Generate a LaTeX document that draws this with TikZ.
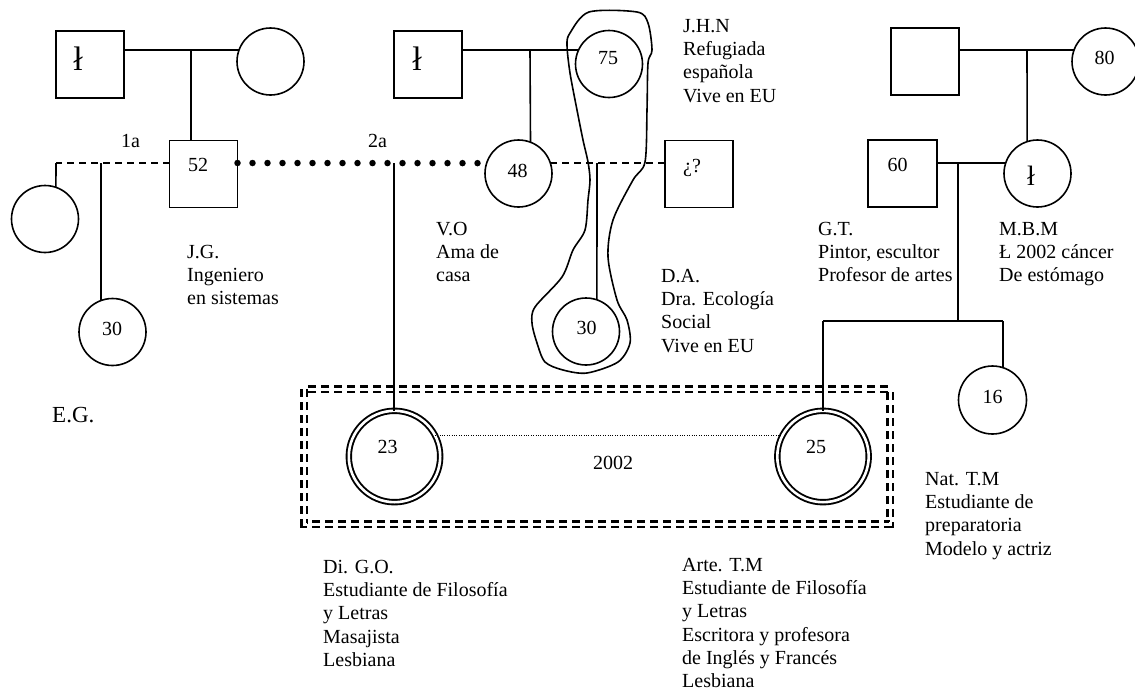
\documentclass[tikz,border=0pt]{standalone}
\usepackage{fontspec}
\setmainfont{Liberation Serif}
\newcommand{\fl}{\rule{0pt}{15pt}}
\begin{document}
\begin{tikzpicture}[x=1pt,y=-1pt,
  ln/.style={line width=1.6pt},
  sq/.style={draw,line width=1.6pt,rectangle,minimum width=68pt,minimum height=67pt,inner sep=0pt,outer sep=0pt},
  ci/.style={draw,line width=1.6pt,circle,minimum size=67pt,inner sep=0pt,outer sep=0pt},
  dci/.style={draw,circle,double,double distance=2.6pt,line width=1.9pt,minimum size=91.4pt,inner sep=0pt,outer sep=0pt},
  num/.style={font=\fontsize{20}{24}\selectfont,anchor=base,inner sep=0pt},
  dth/.style={font=\fontsize{34}{34}\selectfont,anchor=base,inner sep=0pt},
  txt/.style={font=\fontsize{20}{23.3}\selectfont,align=left,anchor=north west,inner sep=0pt},
  dsh/.style={line width=1.6pt,dash pattern=on 7pt off 5pt},
  bigdots/.style={line width=6.5pt,line cap=round,dash pattern=on 0pt off 15pt},
  thindots/.style={line width=0.9pt,dash pattern=on 1pt off 1.4pt},
  grp/.style={double,double distance=3pt,line width=2.2pt,dash pattern=on 8pt off 5pt}]

\useasboundingbox (0,0) rectangle (1135,691);

% group box
\draw[grp] (304,389) rectangle (890,524);

% shapes
\node[sq] (sqA) at (90,64.5) {};
\node[ci] (circA) at (270.5,61.5) {};
\node[sq] (sq52) at (203.5,174) {};
\node[ci] (cL) at (45,219) {};
\node[ci] (c30a) at (112.5,332) {};
\node[sq] (sqB) at (428,64.5) {};
\node[ci] (c75) at (609,64) {};
\node[ci] (c48) at (518.5,173.5) {};
\node[sq] (sqQ) at (699,174) {};
\node[ci] (c30b) at (586,331.5) {};
\node[sq] (sqC) at (925,61.5) {};
\node[ci] (c80) at (1105.5,61.5) {};
\node[ci] (cM) at (1037.5,173.5) {};
\node[sq, minimum width=69pt] (sq60) at (902.5,173.5) {};
\node[ci, minimum size=68pt] (c16) at (992.5,400) {};
\node[dci] (d23) at (394.5,456.5) {};
\node[dci] (d25) at (823,456.5) {};

% numbers and marks
\node[dth] (xA) at (78,70) {ł};
\node[dth] (xB) at (417,70) {ł};
\node[dth, font=\fontsize{28}{28}\selectfont] (xM) at (1031,185) {ł};
\node[num] (n52) at (198,171) {52};
\node[num] (n30a) at (112,335) {30};
\node[num] (n75) at (608,64) {75};
\node[num] (n48) at (517.5,177) {48};
\node[num] (nQ) at (692,172) {¿?};
\node[num] (n30b) at (586.5,334) {30};
\node[num] (n80) at (1104.5,64) {80};
\node[num] (n60) at (897.5,171) {60};
\node[num] (n16) at (992.5,403) {16};
\node[num] (n23) at (387.5,453) {23};
\node[num] (n25) at (816,453) {25};

% coordinates
\coordinate (mA) at (191,50);
\coordinate (mB) at (530,50);
\coordinate (mC) at (1027,50);
\coordinate (dL) at (56,163);
\coordinate (d1) at (101,163);
\coordinate (d2) at (394,163);
\coordinate (d3) at (597,163);
\coordinate (d4) at (958,163);
\coordinate (b1) at (958,321);
\coordinate (bL) at (823,321);
\coordinate (bR) at (1003,321);

% left family
\draw[ln] (sqA.east |- circA.160) -- (circA.160);
\draw[ln] (mA) -- (sq52.north -| mA);
\draw[dsh] (sq52.west |- dL) -- (dL);
\draw[ln] (dL) -- (cL.71);
\draw[ln] (d1) -- (c30a.110);
\draw[bigdots] (sq52.east |- dL) -- (c48.162);
\draw[ln] (d2) -- (d2 |- d23.north);

% middle family
\draw[ln] (sqB.east |- c75.155) -- (c75.155);
\draw[ln] (mB) -- (c48.69);
\draw[dsh] (c48.18) -- (sqQ.west |- c48.18);
\draw[ln] (d3) -- (c30b.71);

% right family
\draw[ln] (sqC.east |- c80.160) -- (c80.160);
\draw[ln] (mC) -- (cM.108);
\draw[ln] (sq60.east |- cM.162) -- (cM.162);
\draw[ln] (d4) -- (b1);
\draw[ln] (bL) -- (bR);
\draw[ln] (bL) -- (d25.north);
\draw[ln] (bR) -- (c16.72);

% couple link
\draw[thindots] (d23.28) -- (d25.152);

% contour around 75 and 30
\draw[line width=1.6pt] plot[smooth cycle, tension=0.5] coordinates {
 (589,12) (637,12) (648,23) (652,50) (648,63) (647,110) (645,162) (633,180)
 (613,220) (608,257) (617,300) (627,320) (630,343) (618,362) (587,373)
 (563,370) (545,362) (537,343) (532,323) (535,307) (562,277) (573,250)
 (585,230) (588,200) (590,180) (588,162) (583,140) (577,110) (570,73)
 (567,45) (570,33)};

% labels
\node[txt] (t1a) at (121,132) {\fl 1a};
\node[txt] (t2a) at (368,132) {\fl 2a};
\node[txt] (tjhn) at (683,17) {\fl J.H.N\\Refugiada\\española\\Vive en EU};
\node[txt] (tjg) at (187,243) {\fl J.G.\\Ingeniero\\en sistemas};
\node[txt] (tvo) at (436,220) {\fl V.O\\Ama de\\casa};
\node[txt] (tda) at (661,267) {\fl D.A.\\Dra. Ecología\\Social\\Vive en EU};
\node[txt] (tgt) at (818,220) {\fl G.T.\\Pintor, escultor\\Profesor de artes};
\node[txt] (tmbm) at (999,220) {\fl M.B.M\\Ł 2002 cáncer\\De estómago};
\node[font=\fontsize{23}{26}\selectfont,anchor=base west,inner sep=0pt] (teg) at (52,422) {E.G.};
\node[txt] (t2002) at (593,454) {\fl 2002};
\node[txt] (tnat) at (925,470) {\fl Nat. T.M\\Estudiante de\\preparatoria\\Modelo y actriz};
\node[txt] (tdgo) at (323,558) {\fl Di. G.O.\\Estudiante de Filosofía\\y Letras\\Masajista\\Lesbiana};
\node[txt] (tarte) at (682,556) {\fl Arte. T.M\\Estudiante de Filosofía\\y Letras\\Escritora y profesora\\de Inglés y Francés\\Lesbiana};
\end{tikzpicture}
\end{document}
